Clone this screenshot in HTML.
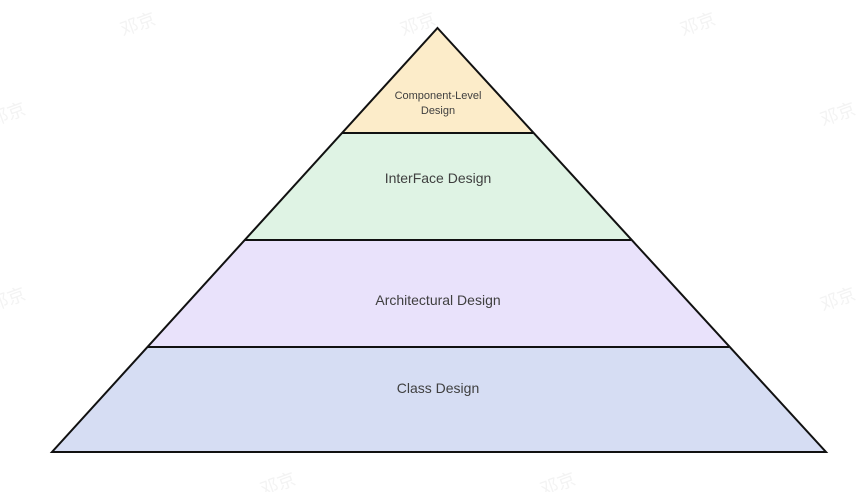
<!DOCTYPE html>
<html><head><meta charset="utf-8"><style>
html,body{margin:0;padding:0;background:#fff;}
svg{display:block;}
text{font-family:"Liberation Sans",sans-serif;fill:#3f3f3f;text-anchor:middle;}
.w text{fill:#f3f3f3;font-family:"Liberation Sans","Noto Sans CJK SC",sans-serif;font-size:18px;}
</style></head><body>
<svg width="865" height="492" viewBox="0 0 865 492" xmlns="http://www.w3.org/2000/svg">
<g class="w">
<text x="140" y="30" transform="rotate(-20 140 30)">邓京</text>
<text x="420" y="30" transform="rotate(-20 420 30)">邓京</text>
<text x="700" y="30" transform="rotate(-20 700 30)">邓京</text>
<text x="10" y="120" transform="rotate(-20 10 120)">邓京</text>
<text x="840" y="120" transform="rotate(-20 840 120)">邓京</text>
<text x="10" y="305" transform="rotate(-20 10 305)">邓京</text>
<text x="840" y="305" transform="rotate(-20 840 305)">邓京</text>
<text x="280" y="490" transform="rotate(-20 280 490)">邓京</text>
<text x="560" y="490" transform="rotate(-20 560 490)">邓京</text>
</g>
<polygon points="437.5,28 342,133 533,133" fill="#fcecc9"/>
<polygon points="342,133 533,133 631,240 244.5,240" fill="#dff3e4"/>
<polygon points="244.5,240 631,240 729,347 147,347" fill="#e9e2fb"/>
<polygon points="147,347 729,347 826,452 52,452" fill="#d6ddf3"/>
<polygon points="437.5,28 826,452 52,452" fill="none" stroke="#111" stroke-width="2"/>
<line x1="342" y1="133" x2="533" y2="133" stroke="#111" stroke-width="2"/>
<line x1="244.5" y1="240" x2="631" y2="240" stroke="#111" stroke-width="2"/>
<line x1="147" y1="347" x2="729" y2="347" stroke="#111" stroke-width="2"/>
<text x="438" y="99" font-size="11">Component-Level</text>
<text x="438" y="114" font-size="11">Design</text>
<text x="438" y="183" font-size="14">InterFace Design</text>
<text x="438" y="305" font-size="14">Architectural Design</text>
<text x="438" y="393" font-size="14">Class Design</text>
</svg>
</body></html>
